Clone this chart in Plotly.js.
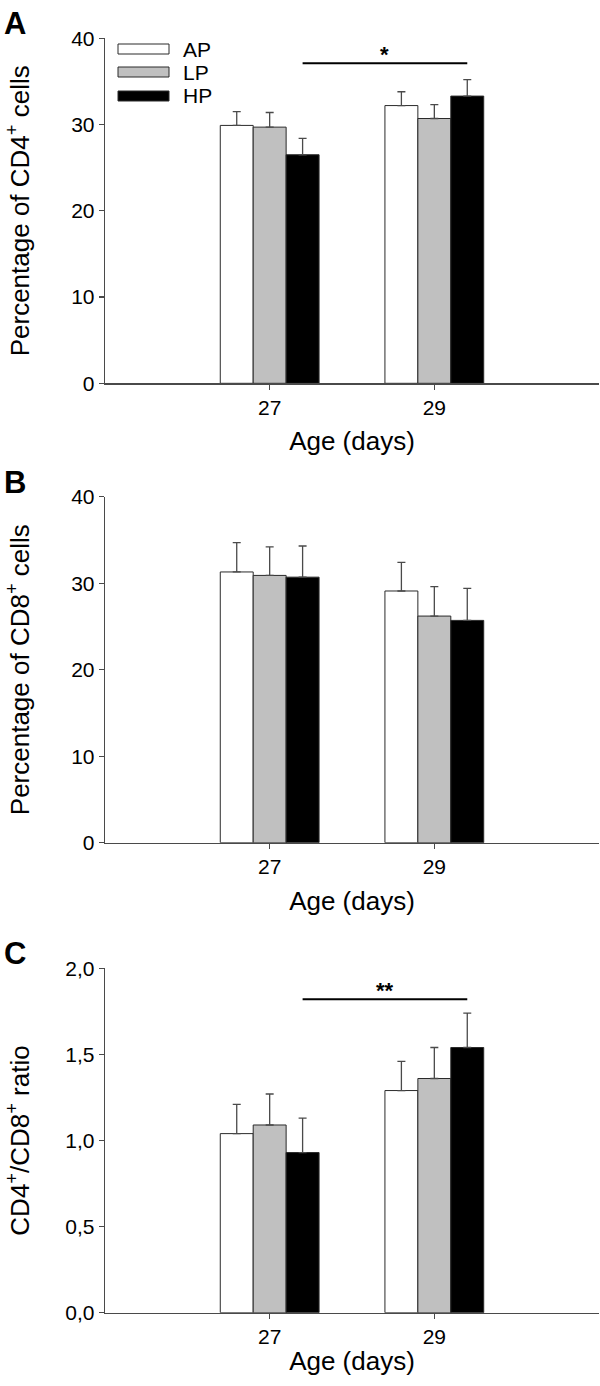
<!DOCTYPE html>
<html>
<head>
<meta charset="utf-8">
<script src="https://cdn.plot.ly/plotly-3.0.1.min.js"></script>
<style>html,body{margin:0;padding:0;background:#fff;}#chart{width:600px;height:1386px;}</style>
</head>
<body>
<div id="chart"></div>
<script>
// ---- data ----
const ages = ['27', '29'];
const groups = ['AP', 'LP', 'HP'];
const groupFills = ['#ffffff', '#c0c0c0', '#000000'];

const cd4Mean = { AP: [29.9, 32.2], LP: [29.7, 30.7], HP: [26.5, 33.3] };
const cd4Err  = { AP: [1.6, 1.6],   LP: [1.7, 1.6],   HP: [1.9, 1.9] };

const cd8Mean = { AP: [31.3, 29.1], LP: [30.9, 26.2], HP: [30.7, 25.7] };
const cd8Err  = { AP: [3.4, 3.3],   LP: [3.3, 3.4],   HP: [3.6, 3.7] };

const ratioMean = { AP: [1.04, 1.29], LP: [1.09, 1.36], HP: [0.93, 1.54] };
const ratioErr  = { AP: [0.17, 0.17], LP: [0.18, 0.18], HP: [0.20, 0.20] };

const yTicksPct = [0, 10, 20, 30, 40];
const yTickTextPct = ['0', '10', '20', '30', '40'];
const yTicksRatio = [0, 0.5, 1.0, 1.5, 2.0];
const yTickTextRatio = ['0,0', '0,5', '1,0', '1,5', '2,0'];

// significance: compared group, level, label
const sigA = { group: 'HP', level: 37.1, label: '*' };
const sigC = { group: 'HP', level: 1.82, label: '**' };

// ---- layout helpers ----
const W = 600, H = 1386;
const FONT = 'Liberation Sans, Arial, Helvetica, sans-serif';
const xL = 105 / W, xR = 599 / W;
const py = p => 1 - p / H;
const panels = [
  { top: 38.3, bottom: 383.3 },
  { top: 496.7, bottom: 842.7 },
  { top: 968.3, bottom: 1312.7 }
];
const bargap = 0.4;
const barW = (1 - bargap) / groups.length;
const offsetOf = g => (groups.indexOf(g) - (groups.length - 1) / 2) * barW;

const datasets = [
  { mean: cd4Mean, err: cd4Err },
  { mean: cd8Mean, err: cd8Err },
  { mean: ratioMean, err: ratioErr }
];

const traces = [];
datasets.forEach((ds, pi) => {
  const sfx = pi === 0 ? '' : String(pi + 1);
  groups.forEach((g, gi) => {
    traces.push({
      type: 'bar',
      name: g,
      x: ages.map((a, i) => i),
      y: ds.mean[g],
      xaxis: 'x' + sfx,
      yaxis: 'y' + sfx,
      marker: { color: groupFills[gi], line: { color: '#2a2a2a', width: 1 } },
      error_y: {
        type: 'data', symmetric: false,
        array: ds.err[g], arrayminus: ds.err[g].map(() => 0),
        color: '#4a4a4a', thickness: 1.3, width: 4
      },
      showlegend: false,
      hoverinfo: 'skip'
    });
  });
});

const axisLine = '#4a4a4a';
function xAxis(pi) {
  return {
    domain: [xL, xR],
    anchor: 'y' + (pi === 0 ? '' : pi + 1),
    range: [-1, 2],
    tickmode: 'array', tickvals: ages.map((a, i) => i), ticktext: ages,
    ticks: 'outside', ticklen: 5, tickwidth: 1.2, tickcolor: axisLine,
    showline: true, linecolor: axisLine, linewidth: 1.3,
    showgrid: false, zeroline: false, fixedrange: true,
    tickfont: { family: FONT, size: 21, color: '#000' },
    title: { text: 'Age (days)', font: { family: FONT, size: 26, color: '#000' }, standoff: pi === 2 ? 4 : 14 }
  };
}
function yAxis(pi, title, range, tv, tt) {
  const p = panels[pi];
  return {
    domain: [py(p.bottom), py(p.top)],
    anchor: 'x' + (pi === 0 ? '' : pi + 1),
    range: range,
    tickmode: 'array', tickvals: tv, ticktext: tt,
    ticks: 'outside', ticklen: 5, tickwidth: 1.2, tickcolor: axisLine,
    showline: true, linecolor: axisLine, linewidth: 1.3,
    showgrid: false, zeroline: false, fixedrange: true,
    tickfont: { family: FONT, size: 21, color: '#000' },
    title: { text: title, font: { family: FONT, size: 26, color: '#000' }, standoff: pi === 2 ? 28 : 34 }
  };
}

const shapes = [];
const annotations = [];

// panel letters
['A', 'B', 'C'].forEach((L, i) => {
  annotations.push({
    xref: 'paper', yref: 'paper', x: 2 / W, y: py(panels[i].top - 34),
    xanchor: 'left', yanchor: 'top', showarrow: false,
    text: '<b>' + L + '</b>', font: { family: FONT, size: 31, color: '#000' }
  });
});

// legend (panel A)
const legTop = [44, 67, 91];
groups.forEach((g, gi) => {
  shapes.push({
    type: 'rect', xref: 'paper', yref: 'paper',
    x0: 118 / W, x1: 169 / W, y0: py(legTop[gi] + 10), y1: py(legTop[gi]),
    fillcolor: groupFills[gi], line: { color: '#2a2a2a', width: 1 }
  });
  annotations.push({
    xref: 'paper', yref: 'paper', x: 181 / W, y: py(legTop[gi] + 5),
    xanchor: 'left', yanchor: 'middle', showarrow: false,
    text: g, font: { family: FONT, size: 21, color: '#000' }
  });
});

// significance bars
[[sigA, 'x', 'y'], [sigC, 'x3', 'y3']].forEach(([s, xr, yr]) => {
  const off = offsetOf(s.group);
  shapes.push({
    type: 'line', xref: xr, yref: yr,
    x0: 0 + off, x1: 1 + off, y0: s.level, y1: s.level,
    line: { color: '#000', width: 2 }
  });
  annotations.push({
    xref: xr, yref: yr, x: 0.5 + off, y: s.level,
    xanchor: 'center', yanchor: 'bottom', showarrow: false, yshift: -6,
    text: '<b>' + s.label + '</b>', font: { family: FONT, size: 22, color: '#000' }
  });
});

const layout = {
  width: W, height: H,
  margin: { l: 0, r: 0, t: 0, b: 0 },
  paper_bgcolor: '#fff', plot_bgcolor: '#fff',
  barmode: 'group', bargap: bargap, bargroupgap: 0,
  showlegend: false,
  font: { family: FONT, color: '#000' },
  xaxis: xAxis(0), xaxis2: xAxis(1), xaxis3: xAxis(2),
  yaxis: yAxis(0, 'Percentage of CD4<sup>+</sup> cells', [0, 40], yTicksPct, yTickTextPct),
  yaxis2: yAxis(1, 'Percentage of CD8<sup>+</sup> cells', [0, 40], yTicksPct, yTickTextPct),
  yaxis3: yAxis(2, 'CD4<sup>+</sup>/CD8<sup>+</sup> ratio', [0, 2], yTicksRatio, yTickTextRatio),
  shapes: shapes,
  annotations: annotations
};

Plotly.newPlot('chart', traces, layout, { displayModeBar: false, staticPlot: true });
</script>
</body>
</html>
